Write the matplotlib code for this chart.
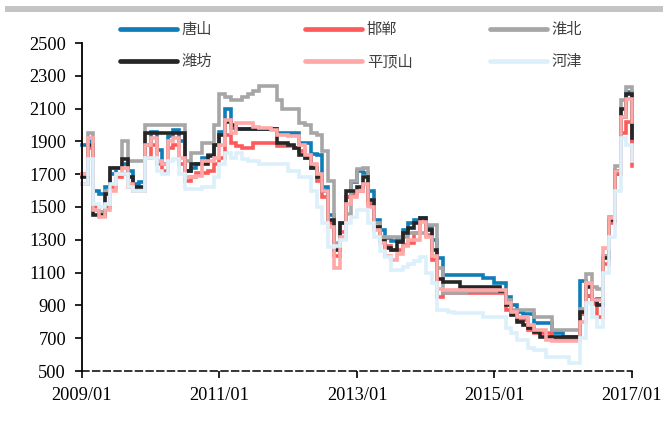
import matplotlib
matplotlib.use("Agg")
import matplotlib.pyplot as plt
import matplotlib.dates as mdates
from matplotlib.patches import Rectangle
from matplotlib.lines import Line2D
import pandas as pd

plt.rcParams['font.family'] = ['Liberation Serif', 'Noto Sans CJK SC', 'DejaVu Sans']

dates = pd.date_range('2009-01-01', '2017-01-01', freq='MS')

tangshan = [1880, 1900, 1600, 1580, 1620, 1700, 1740, 1760, 1720, 1640, 1650, 1880,
            1960, 1850, 1760, 1930, 1970, 1900, 1720, 1740, 1760, 1800, 1820, 1880,
            1960, 2100, 1980, 1975, 1975, 1975, 1975, 1975, 1975, 1975, 1950, 1950,
            1950, 1950, 1890, 1890, 1825, 1820, 1620, 1450, 1260, 1400, 1560, 1650,
            1720, 1710, 1600, 1420, 1360, 1310, 1290, 1300, 1360, 1400, 1420, 1430,
            1380, 1300, 1190, 1083, 1083, 1083, 1083, 1083, 1083, 1083, 1065, 1065,
            1035, 1035, 950, 900, 860, 850, 850, 790, 790, 790, 730, 730,
            710, 710, 710, 1050, 960, 920, 940, 1200, 1430, 1700, 2050, 2200,
            1880]

handan = [1640, 1860, 1500, 1470, 1500, 1620, 1680, 1700, 1620, 1600, 1600, 1800,
          1880, 1760, 1720, 1860, 1880, 1760, 1660, 1680, 1710, 1710, 1720, 1760,
          1800, 1940, 1890, 1870, 1860, 1860, 1890, 1890, 1890, 1890, 1870, 1870,
          1870, 1860, 1840, 1800, 1740, 1660, 1560, 1400, 1200, 1350, 1560, 1580,
          1600, 1640, 1520, 1380, 1300, 1260, 1237, 1237, 1270, 1280, 1340, 1420,
          1330, 1175, 950, 973, 973, 973, 973, 973, 973, 973, 973, 973,
          973, 973, 870, 850, 810, 810, 750, 730, 730, 730, 688, 688,
          688, 688, 688, 850, 960, 910, 830, 1150, 1400, 1700, 1950, 2020,
          1750]

huaibei = [1700, 1950, 1480, 1470, 1600, 1740, 1740, 1900, 1780, 1780, 1780, 2000,
           2000, 2000, 2000, 2000, 2000, 2000, 1780, 1830, 1830, 1890, 1890, 2000,
           2190, 2170, 2150, 2150, 2170, 2190, 2210, 2240, 2240, 2240, 2150, 2100,
           2100, 2100, 2010, 2000, 1950, 1940, 1840, 1660, 1280, 1400, 1460, 1660,
           1730, 1740, 1540, 1400, 1320, 1315, 1315, 1315, 1320, 1340, 1340, 1340,
           1390, 1390, 1130, 975, 975, 975, 975, 990, 990, 990, 990, 990,
           990, 990, 930, 870, 870, 870, 870, 830, 830, 830, 750, 750,
           750, 750, 750, 880, 1090, 1010, 1000, 1200, 1440, 1750, 2150, 2230,
           2090]

weifang = [1680, 1880, 1450, 1450, 1580, 1740, 1740, 1790, 1680, 1620, 1620, 1950,
           1950, 1950, 1950, 1950, 1950, 1950, 1720, 1760, 1760, 1760, 1810, 1880,
           1940, 2020, 2000, 1975, 1975, 1975, 1975, 1975, 1975, 1975, 1890, 1890,
           1880, 1860, 1820, 1800, 1740, 1680, 1600, 1420, 1240, 1400, 1600, 1600,
           1620, 1680, 1540, 1380, 1290, 1250, 1240, 1285, 1340, 1370, 1400, 1430,
           1360, 1240, 1060, 1040, 1040, 1040, 1012, 1012, 1012, 1012, 1012, 1012,
           1012, 990, 900, 840, 800, 780, 765, 740, 707, 707, 707, 707,
           707, 707, 707, 860, 1010, 930, 900, 1190, 1420, 1720, 2100, 2190,
           1920]

pingdingshan = [1700, 1920, 1480, 1440, 1480, 1600, 1700, 1740, 1640, 1600, 1600, 1880,
                1920, 1780, 1760, 1900, 1920, 1800, 1680, 1680, 1690, 1780, 1780, 1800,
                1880, 2030, 1950, 2010, 2010, 2010, 1990, 1980, 1980, 1970, 1940, 1940,
                1930, 1930, 1880, 1820, 1760, 1700, 1600, 1380, 1130, 1320, 1520, 1560,
                1600, 1640, 1500, 1360, 1280, 1200, 1175, 1215, 1260, 1300, 1300, 1410,
                1320, 1200, 1000, 993, 993, 993, 993, 993, 993, 993, 993, 993,
                993, 993, 912, 860, 830, 830, 780, 750, 750, 688, 680, 680,
                680, 680, 680, 800, 1035, 932, 930, 1250, 1430, 1720, 2050, 2160,
                2020]

hejin = [1640, 1790, 1520, 1500, 1520, 1640, 1700, 1700, 1620, 1600, 1600, 1800,
         1800, 1720, 1700, 1780, 1790, 1700, 1610, 1610, 1610, 1620, 1620, 1680,
         1764, 1830, 1800, 1830, 1790, 1783, 1783, 1764, 1764, 1764, 1764, 1764,
         1722, 1722, 1680, 1680, 1600, 1500, 1400, 1255, 1260, 1300, 1400, 1440,
         1480, 1480, 1400, 1315, 1230, 1193, 1114, 1114, 1133, 1155, 1170, 1193,
         1100, 1035, 870, 870, 860, 852, 852, 852, 852, 852, 830, 830,
         830, 830, 760, 730, 688, 688, 640, 628, 628, 585, 585, 585,
         585, 550, 550, 700, 912, 830, 768, 1100, 1315, 1600, 1920, 1880,
         1783]

series_names = ['唐山', '邯郸', '淮北', '潍坊', '平顶山', '河津']
series_values = [tangshan, handan, huaibei, weifang, pingdingshan, hejin]
series_colors = ['#0f7db7', '#ff5a5a', '#a6a6a6', '#262626', '#ffa8a8', '#dcf0fb']

y_ticks = [500, 700, 900, 1100, 1300, 1500, 1700, 1900, 2100, 2300, 2500]
x_ticks = ['2009-01-01', '2011-01-01', '2013-01-01', '2015-01-01', '2017-01-01']

W, H = 663, 428
fig = plt.figure(figsize=(W / 100, H / 100), dpi=100)
fig.patch.set_facecolor('white')

# gray header bar
fig.patches.append(Rectangle((5 / W, 1 - 12 / H), 1 - 5 / W, 6 / H,
                             transform=fig.transFigure, facecolor='#c4c4c4',
                             edgecolor='none'))

ax = fig.add_axes([82 / W, 1 - 371 / H, 550 / W, (371 - 43) / H])

lines = {}
for name, vals, col in zip(series_names, series_values, series_colors):
    ln, = ax.plot(dates, vals, drawstyle='steps-post', color=col, lw=2.6,
                  solid_joinstyle='miter', clip_on=False)
    lines[name] = ln

ax.set_ylim(500, 2500)
ax.set_yticks(y_ticks)
ax.set_xlim(pd.Timestamp('2009-01-01'), pd.Timestamp('2017-01-01'))
ax.set_xticks([pd.Timestamp(t) for t in x_ticks])
ax.xaxis.set_major_formatter(mdates.DateFormatter('%Y/%m'))

for s in ['top', 'right']:
    ax.spines[s].set_visible(False)
ax.spines['left'].set_linewidth(1.3)
ax.spines['bottom'].set_linewidth(1.1)
ax.spines['bottom'].set_linestyle((0, (4.5, 2.5)))

ax.tick_params(axis='both', direction='out', length=5, width=1.2, colors='black',
               labelsize=13.2, pad=6.5)

# legend: 2 rows x 3 columns, placed entry by entry
legend_pos = {
    '唐山': (120, 29.5), '邯郸': (305, 29.5), '淮北': (490, 29.5),
    '潍坊': (120, 61.5), '平顶山': (305, 61.5), '河津': (490, 61.5),
}
for name in series_names:
    px, py = legend_pos[name]
    col = lines[name].get_color()
    h = Line2D([], [], color=col, lw=3.4, solid_capstyle='round')
    leg = fig.legend([h], [name], loc='center left',
                     bbox_to_anchor=(px / W, 1 - py / H),
                     bbox_transform=fig.transFigure, frameon=False,
                     borderpad=0, borderaxespad=0, handlelength=3.7,
                     handletextpad=0.35,
                     prop={'family': ['Noto Sans CJK SC', 'DejaVu Sans'], 'size': 11})
    for t in leg.get_texts():
        t.set_color('#404040')

fig.savefig('out.png', dpi=100)
